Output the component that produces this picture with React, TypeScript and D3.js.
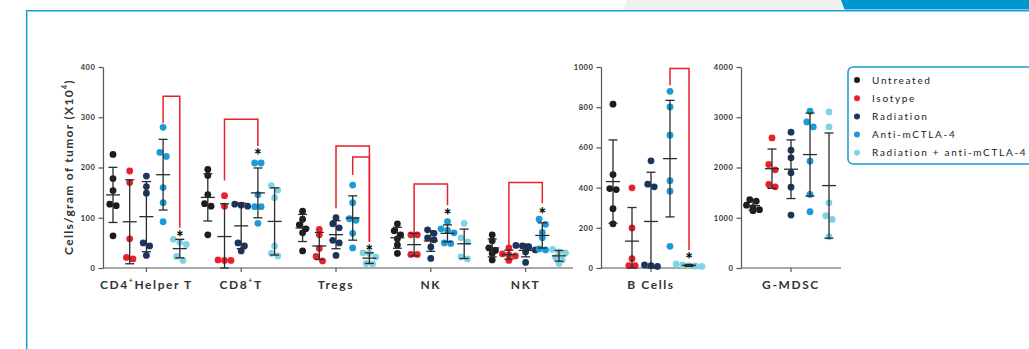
import React, { useRef, useEffect } from 'react';
import * as d3 from 'd3';

const groups = ['Untreated', 'Isotype', 'Radiation', 'Anti-mCTLA-4', 'Radiation + anti-mCTLA-4'];
const groupColors = ['#1c1c1c', '#e8212b', '#1a355f', '#1a9bd7', '#7fd4e4'];

const tCellTypes = ['CD4+Helper T', 'CD8+T', 'Tregs', 'NK', 'NKT'];

// cells / gram of tumor (x10^4), one list per treatment group
const cd4 = [[226, 178, 154, 127, 124, 64], [193, 170, 58, 18, 21], [183, 162, 149, 50, 44, 25], [280, 230, 222, 160, 130, 92], [57, 51, 47, 15, 23]];
const cd8 = [[196, 184, 146, 128, 123, 66], [144, 123, 16, 15, 15], [127, 125, 123, 50, 44, 34], [209, 209, 146, 122, 122, 89], [164, 155, 140, 44, 24, 29]];
const tregs = [[113, 97, 86, 78, 70, 34], [77, 66, 39, 23, 14], [100, 88, 80, 55, 50, 25], [165, 130, 95, 98, 69, 40], [30, 29, 22, 9, 8]];
const nk = [[88, 74, 66, 58, 46, 29], [66, 66, 27, 27], [76, 69, 60, 56, 42, 19], [92, 78, 75, 70, 50, 49], [89, 60, 52, 22, 18]];
const nkt = [[66, 54, 40, 35, 29, 16], [40, 28, 26, 24, 15], [45, 44, 42, 36, 32, 11], [97, 87, 71, 60, 38, 36], [37, 32, 30, 21, 16, 9]];
const bCells = [[815, 465, 395, 390, 295, 220], [399, 199, 46, 12, 12], [533, 417, 404, 15, 12, 8], [879, 801, 661, 434, 382, 108], [20, 15, 12, 10, 8]];
const gMdsc = [[1360, 1330, 1250, 1200, 1160, 1140], [2589, 2060, 1954, 1616, 1662], [2702, 2344, 2192, 1894, 1609, 1053], [3119, 2907, 2808, 2126, 1464, 1119], [3106, 2808, 1298, 1040, 967, 622]];

// significance brackets: between two groups of a cell type
const brackets = [
  { cat: 'CD4+Helper T', from: 3, to: 4, top: 342, fromEnd: 288, toEnd: 80 },
  { cat: 'CD8+T', from: 1, to: 3, top: 296, fromEnd: 174, toEnd: 243 },
  { cat: 'Tregs', from: 2, to: 4, top: 243, fromEnd: 119, toEnd: 52 },
  { cat: 'Tregs', from: 3, to: 4, top: 221, fromEnd: 185, toEnd: 52 },
  { cat: 'NK', from: 1, to: 3, top: 167, fromEnd: 69, toEnd: 125 },
  { cat: 'NKT', from: 1, to: 3, top: 170, fromEnd: 39, toEnd: 129 },
  { cat: 'B Cells', from: 3, to: 4, top: 992, fromEnd: 909, toEnd: 89 },
];
const stars = [
  { cat: 'CD4+Helper T', group: 4, value: 68 },
  { cat: 'CD8+T', group: 3, value: 231 },
  { cat: 'Tregs', group: 4, value: 39 },
  { cat: 'NK', group: 3, value: 112 },
  { cat: 'NKT', group: 3, value: 114 },
  { cat: 'B Cells', group: 4, value: 60 },
];

const FONT = 'Lato, "Open Sans", sans-serif';
const TXT = '#333';
const R = 3.4;

const panels = [
  { cats: tCellTypes, data: [cd4, cd8, tregs, nk, nkt], yMax: 400, yStep: 100, x0: 99, x1: 573, axisX: 103, spread: 33.4 },
  { cats: ['B Cells'], data: [bCells], yMax: 1000, yStep: 200, x0: 601, x1: 701, axisX: 601, spread: 38 },
  { cats: ['G-MDSC'], data: [gMdsc], yMax: 4000, yStep: 1000, x0: 741, x1: 841, axisX: 741, spread: 38 },
];

function swarm(vals: number[], y: (v: number) => number, cx: number) {
  const pts = vals.map((v) => ({ v, py: y(v), px: cx })).sort((a, b) => a.py - b.py);
  const rows: typeof pts[] = [];
  pts.forEach((p) => {
    const last = rows[rows.length - 1];
    if (last && p.py - last[0].py < R * 1.6) last.push(p);
    else rows.push([p]);
  });
  rows.forEach((row) => row.forEach((p, i) => (p.px = cx + (i - (row.length - 1) / 2) * R * 1.9)));
  return pts;
}

const App: React.FC = () => {
  const svgRef = useRef<SVGSVGElement>(null);

  useEffect(() => {
    const svg = d3.select(svgRef.current);
    svg.selectAll('*').remove();

    // page frame
    svg.append('polygon').attr('points', '627,0 841,0 844.5,9.5 623,9.5').attr('fill', '#efefef');
    svg.append('polygon').attr('points', '841,0 1029,0 1029,9.5 844.5,9.5').attr('fill', '#0096d1');
    svg.append('line').attr('x1', 26).attr('x2', 1029).attr('y1', 10.7).attr('y2', 10.7).attr('stroke', '#12a0dc').attr('stroke-width', 1.5);
    svg.append('line').attr('x1', 26.7).attr('x2', 26.7).attr('y1', 10).attr('y2', 349).attr('stroke', '#12a0dc').attr('stroke-width', 1.5);

    const lookup: Record<string, { x: (g: number) => number; y: d3.ScaleLinear<number, number> }> = {};

    panels.forEach((p) => {
      const y = d3.scaleLinear().domain([0, p.yMax]).range([268, 67]);
      const x = d3.scaleBand().domain(p.cats).range([p.x0, p.x1]);
      const off = d3.scalePoint<number>().domain(d3.range(groups.length)).range([-p.spread, p.spread]);
      const g = svg.append('g');

      const yAxis = g.append('g')
        .attr('transform', `translate(${p.axisX},0)`)
        .call(d3.axisLeft(y).tickValues(d3.range(0, p.yMax + 1, p.yStep)).tickFormat(d3.format('d'))
          .tickSize(4.5).tickPadding(3).tickSizeOuter(0));
      yAxis.select('.domain').attr('stroke', '#555').attr('stroke-width', 1.2);
      yAxis.selectAll('line').attr('stroke', '#555').attr('stroke-width', 1.2);
      yAxis.selectAll('text').attr('font-family', FONT).attr('font-size', 7.5).attr('font-weight', 700)
        .attr('fill', TXT).attr('letter-spacing', 0.6);

      g.append('line').attr('x1', p.axisX).attr('x2', p.x1).attr('y1', y(0)).attr('y2', y(0))
        .attr('stroke', '#555').attr('stroke-width', 1.2);

      p.cats.forEach((cat, ci) => {
        const cx = (x(cat) as number) + x.bandwidth() / 2;
        lookup[cat] = { x: (gi: number) => cx + (off(gi) as number), y };

        g.append('line').attr('x1', cx).attr('x2', cx).attr('y1', y(0)).attr('y2', y(0) + 4)
          .attr('stroke', '#555').attr('stroke-width', 1.2);

        const parts = cat.split('+');
        const label = g.append('text').attr('x', cx).attr('y', 289).attr('text-anchor', 'middle')
          .attr('font-family', FONT).attr('font-size', 12).attr('font-weight', 700)
          .attr('letter-spacing', 1.6).attr('fill', TXT);
        label.append('tspan').text(parts[0]);
        if (parts.length > 1) {
          label.append('tspan').attr('font-size', 7).attr('dy', -6).text('+');
          label.append('tspan').attr('dy', 6).text(parts[1]);
        }

        p.data[ci].forEach((vals, gi) => {
          const gx = cx + (off(gi) as number);
          g.selectAll(null).data(swarm(vals, y, gx)).join('circle')
            .attr('cx', (d) => d.px).attr('cy', (d) => d.py).attr('r', R)
            .attr('fill', groupColors[gi]);
        });

        p.data[ci].forEach((vals, gi) => {
          const gx = cx + (off(gi) as number);
          const m = d3.mean(vals) as number;
          const sd = d3.deviation(vals) as number;
          const top = y(m + sd);
          const bot = Math.min(y(Math.max(0, m - sd)), y(0));
          const bar = g.append('g').attr('stroke', '#2b2b2b').attr('stroke-width', 1.3);
          bar.append('line').attr('x1', gx).attr('x2', gx).attr('y1', top).attr('y2', bot);
          bar.append('line').attr('x1', gx - 4.5).attr('x2', gx + 4.5).attr('y1', top).attr('y2', top);
          bar.append('line').attr('x1', gx - 4.5).attr('x2', gx + 4.5).attr('y1', bot).attr('y2', bot);
          bar.append('line').attr('x1', gx - 7).attr('x2', gx + 7).attr('y1', y(m)).attr('y2', y(m));
        });
      });
    });

    brackets.forEach((b) => {
      const { x, y } = lookup[b.cat];
      const path = d3.path();
      path.moveTo(x(b.from), y(b.fromEnd));
      path.lineTo(x(b.from), y(b.top));
      path.lineTo(x(b.to), y(b.top));
      path.lineTo(x(b.to), y(b.toEnd));
      svg.append('path').attr('d', path.toString()).attr('fill', 'none')
        .attr('stroke', '#e8212b').attr('stroke-width', 1.5);
    });

    stars.forEach((s) => {
      const { x, y } = lookup[s.cat];
      svg.append('text').attr('x', x(s.group)).attr('y', y(s.value) + 10).attr('text-anchor', 'middle')
        .attr('font-family', FONT).attr('font-size', 18).attr('font-weight', 900).attr('fill', '#111').text('*');
    });

    // y title
    const title = svg.append('text').attr('transform', 'translate(73,167) rotate(-90)').attr('text-anchor', 'middle')
      .attr('font-family', FONT).attr('font-size', 12).attr('font-weight', 700).attr('letter-spacing', 1.3).attr('fill', TXT);
    title.append('tspan').text('Cells/gram of tumor (X10');
    title.append('tspan').attr('font-size', 7).attr('dy', -6).text('4');
    title.append('tspan').attr('dy', 6).text(')');

    // legend
    const legend = svg.append('g');
    legend.append('rect').attr('x', 848).attr('y', 67).attr('width', 200).attr('height', 97).attr('rx', 5)
      .attr('fill', '#fff').attr('stroke', '#1a9bd7').attr('stroke-width', 1.5);
    groups.forEach((name, i) => {
      legend.append('circle').attr('cx', 857).attr('cy', 80 + i * 18.2).attr('r', 3).attr('fill', groupColors[i]);
      legend.append('text').attr('x', 872).attr('y', 83.5 + i * 18.2).attr('font-family', FONT).attr('font-size', 10)
        .attr('letter-spacing', 1.7).attr('fill', '#222').text(name);
    });
  }, []);

  return <svg ref={svgRef} width={1029} height={349} style={{ position: 'absolute', left: 0, top: 0 }} />;
};

export default App;
